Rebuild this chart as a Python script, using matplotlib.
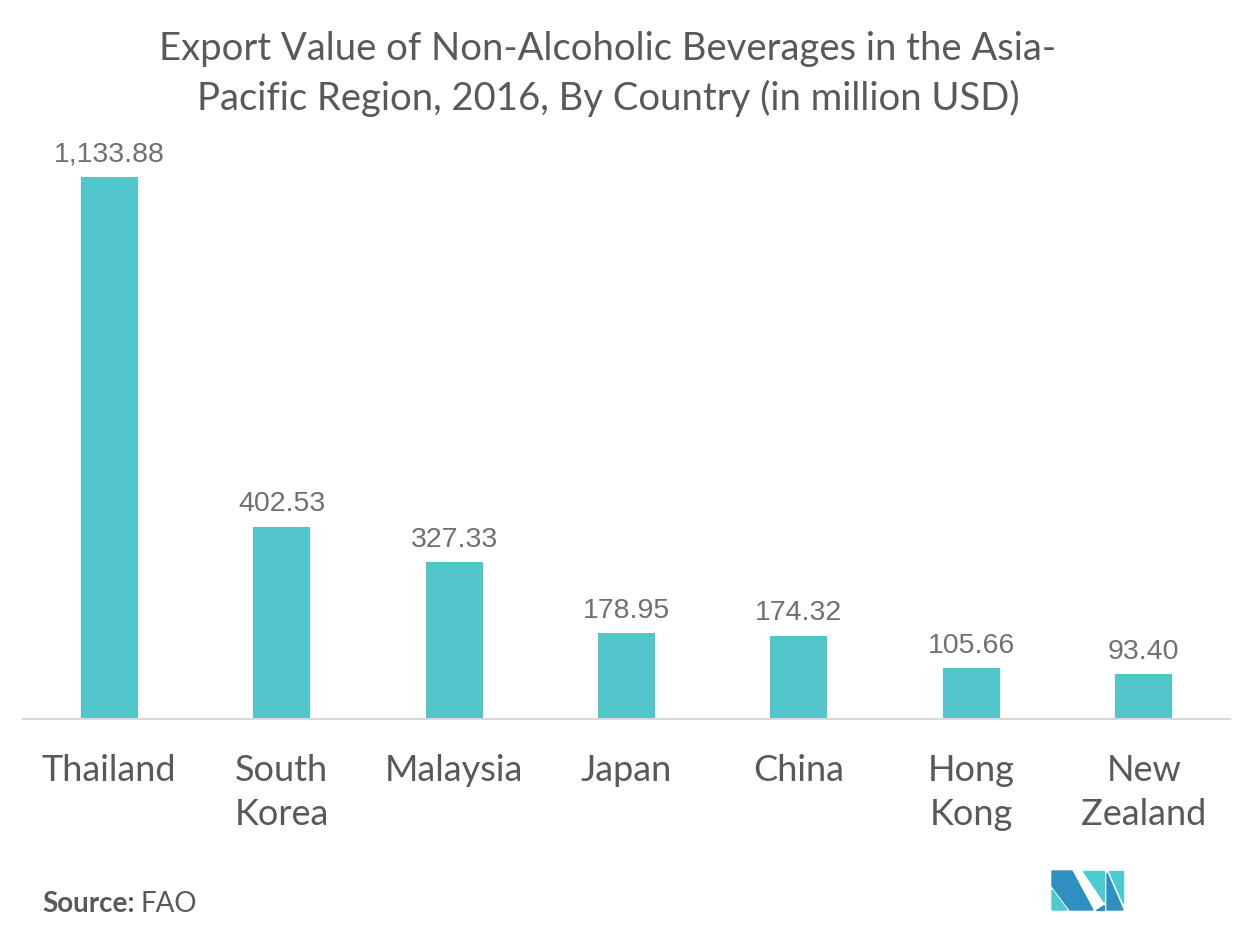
import matplotlib.pyplot as plt
from matplotlib.patches import Polygon

# data
countries = ["Thailand", "South\nKorea", "Malaysia", "Japan", "China", "Hong\nKong", "New\nZealand"]
values = [1133.88, 402.53, 327.33, 178.95, 174.32, 105.66, 93.40]
value_labels = ["1,133.88", "402.53", "327.33", "178.95", "174.32", "105.66", "93.40"]

W, H = 1252, 939
bar_color = "#52C5CA"
text_grey = "#595959"

fig = plt.figure(figsize=(W / 100, H / 100), dpi=100)

# axes placed in pixel terms (top-down y converted)
left, right, top, bottom = 23, 1230, 140, 719
ax = fig.add_axes([left / W, 1 - bottom / H, (right - left) / W, (bottom - top) / H])

x = range(len(countries))
ax.bar(x, values, width=0.33, color=bar_color)
ax.set_xlim(-0.5, len(countries) - 0.5)
ax.set_ylim(0, 1211)

for xi, v, lab in zip(x, values, value_labels):
    ax.annotate(lab, (xi, v), xytext=(0, 11), textcoords="offset points",
                ha="center", va="baseline", fontsize=20.5,
                family="Liberation Sans", color="#707070")

for s in ["top", "right", "left"]:
    ax.spines[s].set_visible(False)
ax.spines["bottom"].set_color("#D9D9D9")
ax.spines["bottom"].set_linewidth(1.5)
ax.set_yticks([])
ax.set_xticks(list(x))
ax.set_xticklabels(countries, fontsize=26, family="Lato", color=text_grey, linespacing=1.4)
ax.tick_params(axis="x", length=0, pad=25)

# title
fig.text(608 / W, 1 - 31 / H,
         "Export Value of Non-Alcoholic Beverages in the Asia-\nPacific Region, 2016, By Country (in million USD)",
         ha="center", va="top", fontsize=27.5, family="Lato", color=text_grey, linespacing=1.42)

# source
src = fig.text(42 / W, 1 - 912 / H, "Source:", ha="left", va="baseline",
               fontsize=20, family="Lato", weight="bold", color=text_grey)
fig.canvas.draw()
bb = src.get_window_extent()
fig.text(bb.x1 / W + 6 / W, 1 - 912 / H, "FAO", ha="left", va="baseline",
         fontsize=20, family="Lato", color=text_grey)

# logo
dark, teal = "#2E8FC0", "#4ACBD0"
def px(pts):
    return [(a / W, 1 - b / H) for a, b in pts]

shapes = [
    ([(1052, 871), (1072, 871), (1093, 910), (1070, 910), (1052, 886)], dark),
    ([(1052, 890), (1067, 910), (1052, 910)], teal),
    ([(1083, 871), (1104, 871), (1104, 902)], teal),
    ([(1096, 910), (1104, 910), (1104, 905)], dark),
    ([(1107, 873), (1123, 910), (1107, 910)], dark),
    ([(1109, 871), (1123, 871), (1123, 903)], teal),
]
for pts, c in shapes:
    fig.patches.append(Polygon(px(pts), closed=True, color=c, transform=fig.transFigure))

fig.savefig("out.png", dpi=100)
